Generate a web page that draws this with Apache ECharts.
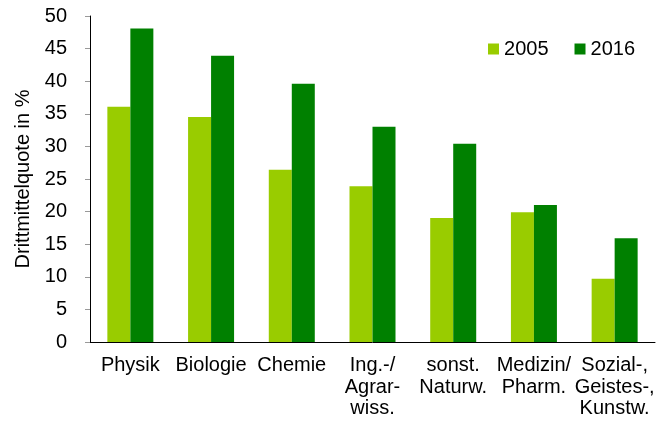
<!DOCTYPE html>
<html>
<head>
<meta charset="utf-8">
<script src="https://cdn.jsdelivr.net/npm/echarts@6/dist/echarts.min.js"></script>
<style>
  html, body { margin: 0; padding: 0; background: #fff; }
  #chart { width: 667px; height: 421px; }
</style>
</head>
<body>
<div id="chart"></div>
<script>
const categories = [
  "Physik",
  "Biologie",
  "Chemie",
  "Ing.-/\nAgrar-\nwiss.",
  "sonst.\nNaturw.",
  "Medizin/\nPharm.",
  "Sozial-,\nGeistes-,\nKunstw."
];
const values2005 = [36.1, 34.5, 26.4, 23.9, 19.0, 19.9, 9.7];
const values2016 = [48.1, 43.9, 39.6, 33.0, 30.4, 21.0, 15.9];
const yTicks = { min: 0, max: 50, interval: 5 };

const font = "'Liberation Sans', Arial, sans-serif";
let chart = echarts.init(document.getElementById("chart"));

let option = {
  backgroundColor: "#fff",
  textStyle: { fontFamily: font },
  legend: {
    data: ["2005", "2016"],
    right: 32,
    top: 39,
    padding: 0,
    itemWidth: 11,
    itemHeight: 11,
    itemGap: 26,
    icon: "rect",
    textStyle: { fontSize: 20, color: "#000", fontFamily: font },
  },
  grid: {
    left: 90,
    right: 12,
    top: 16,
    bottom: 79,
  },
  xAxis: {
    type: "category",
    data: categories,
    axisLine: { lineStyle: { color: "#000", width: 1 } },
    axisTick: { show: false },
    axisLabel: {
      interval: 0,
      margin: 13,
      color: "#000",
      fontSize: 20,
      lineHeight: 21.5,
      fontFamily: font,
    },
  },
  yAxis: {
    type: "value",
    min: yTicks.min,
    max: yTicks.max,
    interval: yTicks.interval,
    name: "Drittmittelquote in %",
    nameLocation: "middle",
    nameGap: 55,
    nameTextStyle: { fontSize: 20, color: "#000", fontFamily: font },
    axisLine: { show: true, lineStyle: { color: "#000", width: 1 } },
    axisTick: { show: true, length: 5, lineStyle: { color: "#999" } },
    splitLine: { show: false },
    axisLabel: { margin: 23, fontSize: 20, color: "#000", fontFamily: font },
  },
  series: [
    {
      name: "2005",
      type: "bar",
      data: values2005,
      barWidth: 23,
      barGap: "0%",
      itemStyle: { color: "#99cc00" },
    },
    {
      name: "2016",
      type: "bar",
      data: values2016,
      barWidth: 23,
      barGap: "0%",
      itemStyle: { color: "#008000" },
    },
  ],
};
chart.setOption(option);
</script>
</body>
</html>
